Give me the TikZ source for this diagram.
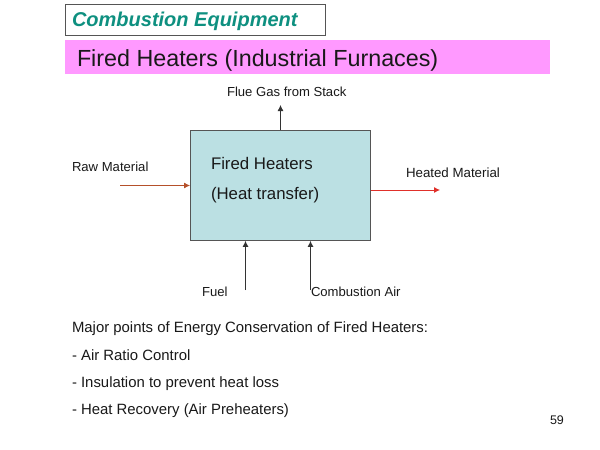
\documentclass[tikz,border=0pt]{standalone}
\usepackage{fontspec}
\setmainfont{Liberation Sans}
\usetikzlibrary{arrows.meta}
\definecolor{boxfill}{HTML}{BBE0E3}
\definecolor{band}{HTML}{FF99FF}
\definecolor{teal}{HTML}{0E9080}
\definecolor{edgegrey}{HTML}{555555}
\definecolor{redarrow}{HTML}{E0302A}
\definecolor{brownarrow}{HTML}{B5502A}
\tikzset{
  txt/.style={anchor=base west,inner sep=0pt,outer sep=0pt,text=black!90},
  small/.style={txt,font=\fontsize{13.1}{13}\selectfont},
  body/.style={txt,font=\fontsize{14.9}{15}\selectfont},
  inbox/.style={txt,font=\fontsize{16.8}{16}\selectfont},
  flow/.style={-{Latex[length=6pt,width=6pt]},line width=0.8pt,draw=black!80},
}
\begin{document}
\begin{tikzpicture}[x=1pt,y=-1pt]
\useasboundingbox (0,0) rectangle (600,450);
\fill[white] (0,0) rectangle (600,450);
\node[draw=edgegrey,line width=0.8pt,fill=white,minimum width=260pt,minimum height=31pt,inner sep=0pt,anchor=north west] (tag) at (65,4) {};
\node[txt,font=\fontsize{20}{20}\selectfont\bfseries\itshape,text=teal] (tagtext) at (72,26.5) {Combustion Equipment};
\node[fill=band,minimum width=485pt,minimum height=34pt,inner sep=0pt,anchor=north west] (bandbox) at (65,40) {};
\node[txt,font=\fontsize{23.3}{24}\selectfont] (title) at (77,66) {Fired Heaters (Industrial Furnaces)};
\node[draw=edgegrey,line width=0.9pt,fill=boxfill,minimum width=180pt,minimum height=110pt,inner sep=0pt,anchor=north west] (heater) at (190,130) {};
\node[inbox] (h1) at (211,169) {Fired Heaters};
\node[inbox] (h2) at (211,199) {(Heat transfer)};
\node[small] (flue) at (227,96) {Flue Gas from Stack};
\node[small] (raw) at (72,171) {Raw Material};
\node[small,font=\fontsize{13.3}{13}\selectfont] (hot) at (406,177) {Heated Material};
\node[small] (fuel) at (202,296) {Fuel};
\node[small] (air) at (311,296) {Combustion Air};
\coordinate (flueend) at (280.5,105);
\coordinate (rawstart) at (120,185.5);
\coordinate (hotend) at (440,190);
\coordinate (fuelstart) at (245.5,290);
\coordinate (airstart) at (310.5,290);
\draw[flow] (heater.north -| flueend) -- (flueend);
\draw[flow,draw=brownarrow] (rawstart) -- (heater.west |- rawstart);
\draw[flow,draw=redarrow] (heater.east |- hotend) -- (hotend);
\draw[flow] (fuelstart) -- (heater.south -| fuelstart);
\draw[flow] (airstart) -- (heater.south -| airstart);
\node[body] (p0) at (72,332) {Major points of Energy Conservation of Fired Heaters:};
\node[body] (p1) at (72,360) {- Air Ratio Control};
\node[body] (p2) at (72,387) {- Insulation to prevent heat loss};
\node[body] (p3) at (72,414) {- Heat Recovery (Air Preheaters)};
\node[txt,font=\fontsize{12.5}{13}\selectfont] (page) at (550,424) {59};
\end{tikzpicture}
\end{document}
